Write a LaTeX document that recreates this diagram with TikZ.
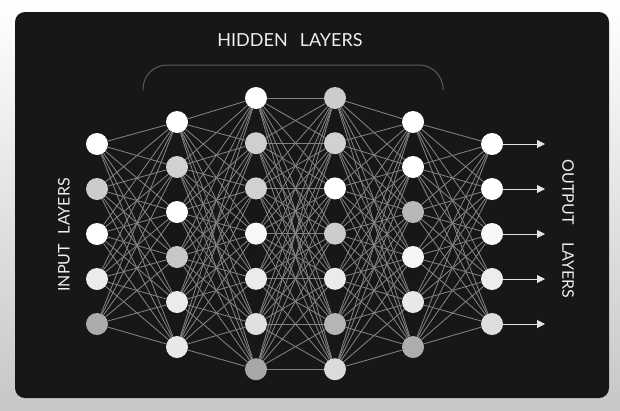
\documentclass[tikz,border=0pt]{standalone}
\usepackage{fontspec}
\setmainfont{Lato}
\usetikzlibrary{arrows.meta}
\pgfdeclarelayer{bg}
\pgfdeclarelayer{edges}
\pgfsetlayers{bg,edges,main}
\definecolor{panel}{HTML}{151719}
\definecolor{edgecol}{HTML}{828282}
\definecolor{txt}{HTML}{EEEEEE}
\definecolor{brk}{HTML}{5A5A5A}
\begin{document}
\begin{tikzpicture}[x=1pt,y=-1pt,
  neuron/.style={circle,minimum size=22pt,inner sep=0pt,draw=none},
  edge/.style={draw=edgecol,line width=0.85pt},
  outarrow/.style={draw=black!10,line width=1pt,-{Triangle[length=8pt,width=8pt]}},
  lbl/.style={text=txt,font=\fontsize{16}{18}\selectfont,inner sep=0pt},
  bracketline/.style={draw=brk,line width=1pt,rounded corners=24pt}]
\useasboundingbox (0,0) rectangle (620,410);
\begin{pgfonlayer}{bg}
\shade[top color=white,bottom color=black!22] (0,0) rectangle (620,410);
\fill[panel,rounded corners=10pt] (15,12) rectangle (609,398);
\end{pgfonlayer}
% layers
\foreach \c [count=\i] in {white,black!20,white,black!8,black!33}
  \node[neuron,fill=\c] (a\i) at (97,{144+45*(\i-1)}) {};
\foreach \c [count=\i] in {white,black!18,white,black!22,black!8,black!9}
  \node[neuron,fill=\c] (b\i) at (177,{122+45*(\i-1)}) {};
\foreach \c [count=\i] in {white,black!19,black!18,black!3,black!8,black!12,black!34}
  \node[neuron,fill=\c] (c\i) at (256,{98+45.2*(\i-1)}) {};
\foreach \c [count=\i] in {black!20,black!18,white,black!20,black!8,black!29,black!14}
  \node[neuron,fill=\c] (d\i) at (335,{98+45.2*(\i-1)}) {};
\foreach \c [count=\i] in {white,white,black!28,black!4,black!9,black!32}
  \node[neuron,fill=\c] (e\i) at (413,{122+45*(\i-1)}) {};
\foreach \c [count=\i] in {white,white,black!3,black!7,black!13}
  \node[neuron,fill=\c] (f\i) at (492,{144+45*(\i-1)}) {};
% connections
\begin{pgfonlayer}{edges}
\foreach \i in {1,...,5}{\foreach \j in {1,...,6}{\draw[edge] (a\i) -- (b\j);}}
\foreach \i in {1,...,6}{\foreach \j in {1,...,7}{\draw[edge] (b\i) -- (c\j);}}
\foreach \i in {1,...,7}{\foreach \j in {1,...,7}{\draw[edge] (c\i) -- (d\j);}}
\foreach \i in {1,...,7}{\foreach \j in {1,...,6}{\draw[edge] (d\i) -- (e\j);}}
\foreach \i in {1,...,6}{\foreach \j in {1,...,5}{\draw[edge] (e\i) -- (f\j);}}
\end{pgfonlayer}
% outputs
\foreach \i in {1,...,5}{
  \coordinate (o\i) at (545,{144+45*(\i-1)});
  \draw[outarrow] (f\i) -- (o\i);
}
% bracket
\coordinate (bl) at (143,90);
\coordinate (bt1) at (143,65);
\coordinate (bt2) at (443,65);
\coordinate (br) at (443,90);
\draw[bracketline] (bl) -- (bt1) -- (bt2) -- (br);
% labels
\node[lbl,font=\fontsize{18}{20}\selectfont] (title) at (290,40) {HIDDEN\hspace{12pt}LAYERS};
\node[lbl,rotate=90] (inl) at (64,235) {INPUT\hspace{10pt}LAYERS};
\node[lbl,rotate=-90] (outl) at (568,229) {OUTPUT\hspace{18pt}LAYERS};
\end{tikzpicture}
\end{document}
